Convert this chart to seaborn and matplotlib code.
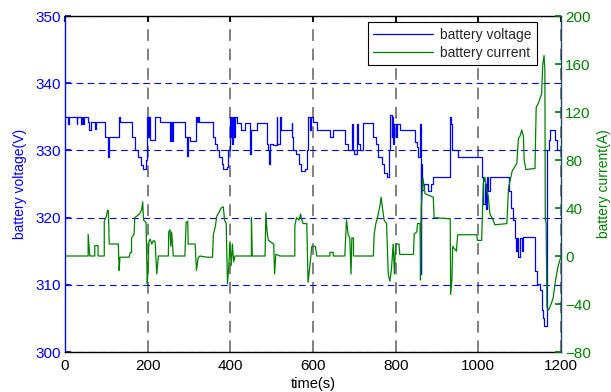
import matplotlib
matplotlib.use("Agg")
import matplotlib.pyplot as plt
import pandas as pd
import seaborn as sns
from matplotlib.lines import Line2D

# ---- data (step breakpoints) ----
volt_t = [0, 8, 10, 28, 30, 38, 40, 44, 46, 56, 59, 62, 72, 75, 97, 103, 106, 131, 133, 161,
          170, 176, 184, 189, 196, 199, 202, 204, 206, 218, 230, 254, 256, 258, 261, 290, 294, 298, 302, 318,
          320, 322, 324, 359, 363, 367, 373, 380, 383, 391, 395, 398, 401, 403, 405, 407, 409, 411, 415, 427,
          435, 447, 449, 464, 488, 492, 494, 496, 504, 512, 514, 520, 522, 548, 550, 552, 558, 565, 570, 580,
          585, 588, 592, 594, 600, 609, 641, 649, 677, 685, 694, 696, 700, 706, 708, 714, 722, 746, 752, 758,
          766, 772, 780, 784, 787, 790, 792, 794, 797, 800, 803, 810, 847, 852, 855, 859, 861, 862, 864, 868,
          878, 885, 891, 932, 934, 936, 952, 1008, 1012, 1015, 1018, 1020, 1024, 1028, 1073, 1078, 1083, 1085, 1088, 1091,
          1093, 1097, 1101, 1105, 1109, 1137, 1143, 1149, 1153, 1157, 1160, 1165, 1170, 1174, 1186, 1190, 1200]
volt_v = [335, 334, 335, 334, 335, 334, 335, 334, 335, 334.2, 333, 334.2, 333.2, 334.2, 332, 329, 332, 335, 334.2, 332,
          330, 329, 327.8, 327.2, 328.5, 335, 332, 335, 331.5, 335, 334.2, 331.4, 334.2, 331.4, 334.2, 332, 329.1, 332, 331.4, 335,
          334.2, 335, 334.2, 332, 331, 330, 329, 328, 327.2, 327.5, 330, 335, 332, 335, 331, 335, 332, 335, 334.1, 333,
          334.1, 329.5, 333, 334.1, 331, 330, 328, 331, 330.8, 335, 331, 335, 333, 334.1, 332, 330, 329.5, 328, 327, 327.2,
          330, 335, 333, 335, 334.2, 333.1, 332, 333.1, 331, 330, 334, 330, 329.5, 334, 331, 330, 334.1, 332, 331, 329,
          328, 326.6, 326.1, 330, 335.3, 332, 335, 331, 334, 332, 334, 333.1, 331.3, 330.5, 329, 334, 311.6, 328, 324.1, 325,
          324, 325, 326, 335, 334, 330, 329, 326, 322, 325, 321.3, 326, 324, 326, 324, 321.5, 320.6, 319.6, 317, 315.1,
          317, 314.1, 317, 315, 317.1, 312.1, 310.1, 309.2, 306.2, 305, 303.9, 330, 331.5, 333, 331.5, 330, 330]

curr_t = [0, 56, 56, 58, 60, 72, 72, 80, 80, 95, 95, 100, 103, 105, 107, 129, 131, 133, 155, 158,
          161, 161, 167, 169, 180, 185, 188, 190, 196, 199, 201, 203, 206, 210, 214, 218, 222, 226, 250, 251,
          254, 256, 258, 262, 290, 293, 297, 298, 315, 318, 322, 326, 343, 357, 359, 364, 367, 372, 378, 383,
          386, 390, 393, 396, 399, 402, 405, 408, 411, 451, 451, 453, 484, 486, 489, 492, 505, 507, 510, 520,
          556, 556, 560, 566, 570, 573, 576, 585, 588, 592, 597, 606, 609, 641, 641, 649, 649, 677, 681, 685,
          689, 692, 694, 698, 698, 746, 748, 752, 756, 762, 765, 768, 772, 778, 782, 786, 790, 794, 797, 800,
          808, 810, 843, 845, 851, 853, 859, 860, 862, 866, 869, 871, 891, 893, 932, 933, 936, 938, 947, 950,
          996, 998, 1008, 1012, 1016, 1020, 1024, 1028, 1036, 1040, 1069, 1073, 1077, 1082, 1093, 1097, 1101, 1105, 1109, 1111,
          1115, 1137, 1140, 1145, 1150, 1153, 1156, 1159, 1161, 1162, 1164, 1166, 1170, 1176, 1181, 1186, 1192, 1200]
curr_i = [0, 0, 18, 9, 0, 0, 8.6, 8.6, 0, 0, 29, 33, 38, 38, 10, 10, -12, -1, -1, 3,
          3, 15, 18, 32, 35, 38, 45, 30, 28, -23, -10, 12, 14, 10, 13, 12, -15, 0, 0, 20,
          22, 8, 20, 0, 0, 28, 29, 10, 10, -12, -2, 0, -1, -1, 18, 25, 33, 36, 40, 41,
          30, 27, -23, -10, 12, -8, 10, -5, 0, 0, 32, 0, 0, 36, 20, 13, 10, -15, 1.5, 0,
          0, 25, 32, 30, 35, 30, 27, 27, -22, -10, 8, 8, 0, 0, 3, 3, 0, 0, 30, 18,
          15, -15, 15, 15, 0, 0, 18, 27, 32, 42, 49, 40, 30, 27, -15, -21, -10, 10, -15, 10,
          10, 1.3, 1.3, 18.5, 20, 27, 27, -20, 40, 65, 57, 52, 49, 32, 31, -32, -20, 8, 4, 17.7,
          17.7, 13, 13, 60, 65.7, 55, 50, 35, 30, 26, 27, 57, 63, 71, 77, 98, 100, 105, 100, 80,
          72, 73, 124, 127, 132, 135, 160, 167, 155, 30, 28, -43, -45, -40, -35, -22, -10, 0]

volt_ticks = [300, 310, 320, 330, 340, 350]
curr_ticks = [-80, -40, 0, 40, 80, 120, 160, 200]
time_ticks = [0, 200, 400, 600, 800, 1000, 1200]

sns.set_theme(style="white")
plt.rcParams['font.family'] = ['Liberation Sans', 'DejaVu Sans']

W, H = 611, 392
fig = plt.figure(figsize=(W / 100, H / 100), dpi=100)
ax = fig.add_axes([65 / W, 1 - 352 / H, 496 / W, 336 / H])

df_v = pd.DataFrame({'time': volt_t, 'voltage': volt_v})
sns.lineplot(data=df_v, x='time', y='voltage', ax=ax, color='#0000ff', lw=0.9,
             drawstyle='steps-post', estimator=None, sort=False)

ax2 = ax.twinx()
df_i = pd.DataFrame({'time': curr_t, 'current': curr_i})
sns.lineplot(data=df_i, x='time', y='current', ax=ax2, color='#008000', lw=0.9,
             estimator=None, sort=False)

ax.set_xlim(0, 1200)
ax.set_ylim(300, 350)
ax2.set_ylim(-80, 200)
ax.set_xticks(time_ticks)
ax.set_yticks(volt_ticks)
ax2.set_yticks(curr_ticks)

ax.grid(True, axis='y', color='#0000ff', linestyle=(0, (6, 4)), lw=0.8)
ax.grid(True, axis='x', color='#808080', linestyle=(0, (6, 4)), lw=1.4)

ax.tick_params(axis='y', colors='#0000ff', direction='in', length=4, labelsize=11, pad=3)
ax.tick_params(axis='x', colors='black', direction='in', length=4, labelsize=11, top=True, pad=5)
ax2.tick_params(axis='y', colors='#008000', direction='in', length=4, labelsize=11, pad=3)

for s in ['top', 'bottom']:
    ax.spines[s].set_color('black')
ax.spines['left'].set_color('#0000ff')
ax.spines['right'].set_visible(False)
for s in ['top', 'bottom', 'left']:
    ax2.spines[s].set_visible(False)
ax2.spines['right'].set_color('#1f4a63')
for a in (ax, ax2):
    for s in a.spines.values():
        s.set_linewidth(1.0)

ax.set_xlabel('time(s)', color='black', fontsize=10.5, labelpad=3)
ax.set_ylabel('battery voltage(V)', color='#0000ff', fontsize=10, labelpad=6)
ax2.set_ylabel('battery current(A)', color='#008000', fontsize=10, labelpad=4)

for a in (ax, ax2):
    if a.get_legend() is not None:
        a.get_legend().remove()

handles = [Line2D([], [], color='#0000ff', lw=0.9), Line2D([], [], color='#008000', lw=0.9)]
leg = ax2.legend(handles, ['battery voltage', 'battery current'], loc='upper right',
                 bbox_to_anchor=(537 / W, 1 - 22 / H), bbox_transform=fig.transFigure,
                 borderaxespad=0, fontsize=10, frameon=True, fancybox=False,
                 handlelength=4.3, handletextpad=0.5, borderpad=0.4, labelspacing=0.3)
leg.get_frame().set_edgecolor('black')
leg.get_frame().set_linewidth(0.8)
leg.get_frame().set_alpha(1)

fig.savefig('out.png', dpi=100)
